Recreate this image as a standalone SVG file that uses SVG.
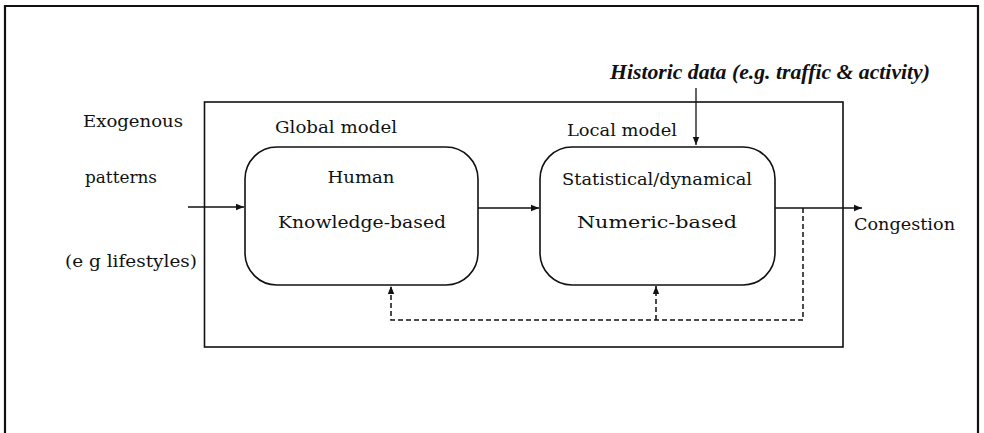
<svg xmlns="http://www.w3.org/2000/svg" width="984" height="433" viewBox="0 0 984 433">
<style>
.t{font-family:"DejaVu Serif","Liberation Serif",serif;font-size:17px;fill:#111}
.h{font-family:"Liberation Serif","DejaVu Serif",serif;font-size:20px;font-weight:bold;font-style:italic;fill:#111}
.box{fill:none;stroke:#111;stroke-width:1.6}
.ln{fill:none;stroke:#111;stroke-width:1.3}
.ds{fill:none;stroke:#111;stroke-width:1.5;stroke-dasharray:5 3}
</style>
<defs>
<marker id="ah" viewBox="0 0 10 10" refX="10" refY="5" markerWidth="8" markerHeight="8" markerUnits="userSpaceOnUse" orient="auto">
<path d="M0,1 L10,5 L0,9 Z" fill="#111"/>
</marker>
</defs>
<rect width="984" height="433" fill="#fff"/>
<g id="frame">
<path d="M5,433 V6 H978 V433" fill="none" stroke="#111" stroke-width="2.2"/>
<rect x="204.5" y="102" width="638.5" height="245" class="box"/>
</g>
<g id="exogenous">
<text class="t" x="83" y="127" textLength="100" lengthAdjust="spacingAndGlyphs">Exogenous</text>
<text class="t" x="85" y="183" textLength="72" lengthAdjust="spacingAndGlyphs">patterns</text>
<text class="t" x="65" y="267" textLength="132" lengthAdjust="spacingAndGlyphs">(e g  lifestyles)</text>
</g>
<g id="global">
<text class="t" x="275" y="133" textLength="122" lengthAdjust="spacingAndGlyphs">Global model</text>
<rect x="245" y="147" width="233" height="138" rx="32" ry="32" class="box"/>
<text class="t" x="361" y="183" text-anchor="middle" textLength="67" lengthAdjust="spacingAndGlyphs">Human</text>
<text class="t" x="362" y="228" text-anchor="middle" textLength="168" lengthAdjust="spacingAndGlyphs">Knowledge-based</text>
</g>
<g id="local">
<text class="t" x="567" y="136" textLength="110" lengthAdjust="spacingAndGlyphs">Local model</text>
<rect x="540" y="147" width="235" height="138" rx="32" ry="32" class="box"/>
<text class="t" x="657" y="185" text-anchor="middle" textLength="190" lengthAdjust="spacingAndGlyphs">Statistical/dynamical</text>
<text class="t" x="657" y="228" text-anchor="middle" textLength="160" lengthAdjust="spacingAndGlyphs">Numeric-based</text>
</g>
<g id="historic">
<text class="h" x="610" y="79" textLength="320" lengthAdjust="spacingAndGlyphs">Historic data (e.g. traffic &amp; activity)</text>
</g>
<g id="congestion">
<text class="t" x="854" y="230" textLength="101" lengthAdjust="spacingAndGlyphs">Congestion</text>
</g>
<g id="connectors">
<line x1="188" y1="207" x2="244" y2="207" class="ln" marker-end="url(#ah)"/>
<line x1="478" y1="208" x2="539" y2="208" class="ln" marker-end="url(#ah)"/>
<line x1="775" y1="208" x2="862" y2="208" class="ln" marker-end="url(#ah)"/>
<line x1="696" y1="88" x2="696" y2="145" class="ln" marker-end="url(#ah)"/>
<path d="M803,208 V320 H391 V286" class="ds" marker-end="url(#ah)"/>
<path d="M656,320 V286" class="ds" marker-end="url(#ah)"/>
</g>
</svg>
